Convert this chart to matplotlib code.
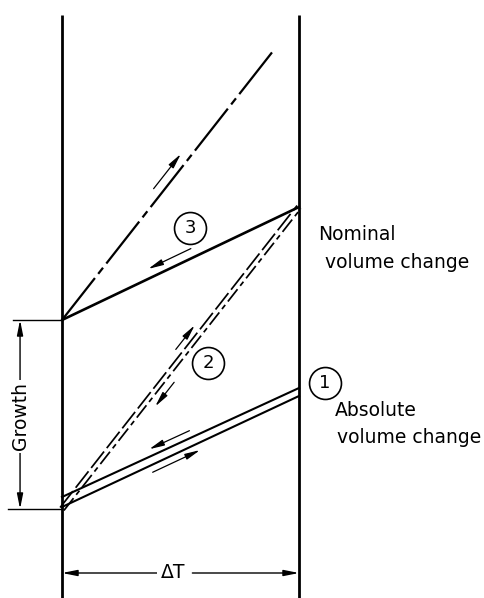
import numpy as np
import matplotlib
matplotlib.use("Agg")
import matplotlib.pyplot as plt
from matplotlib.transforms import offset_copy

# Schematic of volume change over one thermal cycle.
# x is measured in units of the temperature span (0 = start, 1 = ΔT),
# y in arbitrary volume units, with the start of heating at y = 0.
temperature_span = [0.0, 1.0]
growth = 1.89                      # permanent growth after the cycle
path1_x = [0.0, 1.0]               # absolute volume change (reversible)
path1_lower_y = [0.02, 1.13]
path1_upper_y = [0.12, 1.21]
path2_x = [0.0, 1.0]               # heating, nominal volume change
path2_y = [0.0, 3.02]
path3_x = [0.0, 1.0]               # cooling back down to the grown state
path3_y = [growth, 3.02]
reheat_x = [0.0, 0.886]            # reheating the grown specimen
reheat_y = [growth, growth + 0.886 * 3.02]
path_labels = ["1", "2", "3"]
nominal_text = ["Nominal", "volume change"]
absolute_text = ["Absolute", "volume change"]

W, H = 485, 598
fig = plt.figure(figsize=(W / 100, H / 100), dpi=100)
ax = fig.add_axes([0, 0, 1, 1])
ax.set_xlim(-0.2616, 1.7848)
ax.set_ylim(-0.89, 5.09)
ax.axis("off")

INK = "black"
FONT = "DejaVu Sans"
FS = 13.5
HEAD = "-|>,head_length=0.9,head_width=0.18"


def shifted(dx, dy):
    """transData shifted by (dx, dy) display pixels."""
    return offset_copy(ax.transData, fig=fig, x=dx, y=dy, units="dots")


def normal_px(xs, ys):
    """Unit normal (pointing up/left) of a segment in display space."""
    p = ax.transData.transform(np.column_stack([xs, ys]))
    d = p[1] - p[0]
    d = d / np.hypot(*d)
    return np.array([-d[1], d[0]])


def along(xs, ys, t):
    return xs[0] + t * (xs[1] - xs[0]), ys[0] + t * (ys[1] - ys[0])


def arrow(xy_to, xy_from, tr=None, lw=0.9):
    tr = ax.transData if tr is None else tr
    ax.annotate("", xy=xy_to, xycoords=tr, xytext=xy_from, textcoords=tr,
                arrowprops=dict(arrowstyle=HEAD, lw=lw, color=INK,
                                shrinkA=0, shrinkB=0, mutation_scale=10))


def side_arrow(xs, ys, t_from, t_to, off):
    tr = shifted(*(normal_px(xs, ys) * off))
    arrow(along(xs, ys, t_to), along(xs, ys, t_from), tr)


# Walls at start and end of the temperature span
for x in temperature_span:
    ax.plot([x, x], [-0.9, 4.94], color=INK, lw=2.0, solid_capstyle="butt")

# Path 3: cooling after growth (solid)
ax.plot(path3_x, path3_y, color=INK, lw=1.9, solid_capstyle="round")

# Reheating of the grown specimen (long dash-dot)
ax.plot(reheat_x, reheat_y, color=INK, lw=1.6,
        dashes=(24, 2.4, 3.5, 2.4), dash_capstyle="butt")

# Path 2: nominal volume change (double dashed line)
n2 = normal_px(path2_x, path2_y)
ax.plot(path2_x, path2_y, color=INK, lw=1.25, dashes=(12, 2.5),
        transform=shifted(*(n2 * 2.4)))
ax.plot(path2_x, path2_y, color=INK, lw=1.25, dashes=(9, 2.5, 3, 2.5),
        transform=shifted(*(-n2 * 2.4)))

# Path 1: absolute volume change (double solid line)
ax.plot(path1_x, path1_lower_y, color=INK, lw=1.5)
ax.plot(path1_x, path1_upper_y, color=INK, lw=1.5)

# Direction arrows alongside the paths
side_arrow(reheat_x, reheat_y, 0.47, 0.60, 9)
side_arrow(path3_x, path3_y, 0.56, 0.38, 9)
side_arrow(path2_x, path2_y, 0.51, 0.59, 9)
side_arrow(path2_x, path2_y, 0.44, 0.36, -10)
side_arrow(path1_x, path1_upper_y, 0.55, 0.38, 7)
side_arrow(path1_x, path1_lower_y, 0.37, 0.57, -7)

# Circled path numbers
label_pos = [(1.11, 1.26), (0.616, 1.46), (0.54, 2.81)]
for txt, (lx, ly) in zip(path_labels, label_pos):
    ax.plot([lx], [ly], marker="o", ms=23, mfc="white", mec=INK, mew=1.2,
            zorder=4)
    ax.text(lx, ly, txt, ha="center", va="center", fontsize=13,
            family=FONT, color=INK, zorder=5)

# Side descriptions
for txt, (tx, ty) in zip(nominal_text, [(1.080, 2.69), (1.110, 2.41)]):
    ax.text(tx, ty, txt, ha="left", va="baseline", fontsize=FS,
            family=FONT, color=INK)
for txt, (tx, ty) in zip(absolute_text, [(1.152, 0.93), (1.162, 0.66)]):
    ax.text(tx, ty, txt, ha="left", va="baseline", fontsize=FS,
            family=FONT, color=INK)

# Growth dimension
gx = -0.177
ax.plot([-0.207, 0.0], [growth, growth], color=INK, lw=1.0)
ax.plot([-0.228, 0.0], [0.0, 0.0], color=INK, lw=1.0)
arrow((gx, growth), (gx, 1.0), lw=1.0)
arrow((gx, 0.0), (gx, 0.85), lw=1.0)
ax.text(gx, growth / 2 - 0.02, "Growth", rotation=90, ha="center",
        va="center", fontsize=FS, family=FONT, color=INK,
        bbox=dict(fc="white", ec="none", pad=1.5))

# ΔT dimension
ty = -0.64
arrow((0.0, ty), (0.45, ty), lw=1.0)
arrow((1.0, ty), (0.55, ty), lw=1.0)
ax.text(0.468, ty, "ΔT", ha="center", va="center", fontsize=FS,
        family=FONT, color=INK, bbox=dict(fc="white", ec="none", pad=3))

fig.savefig("out.png", dpi=100)
